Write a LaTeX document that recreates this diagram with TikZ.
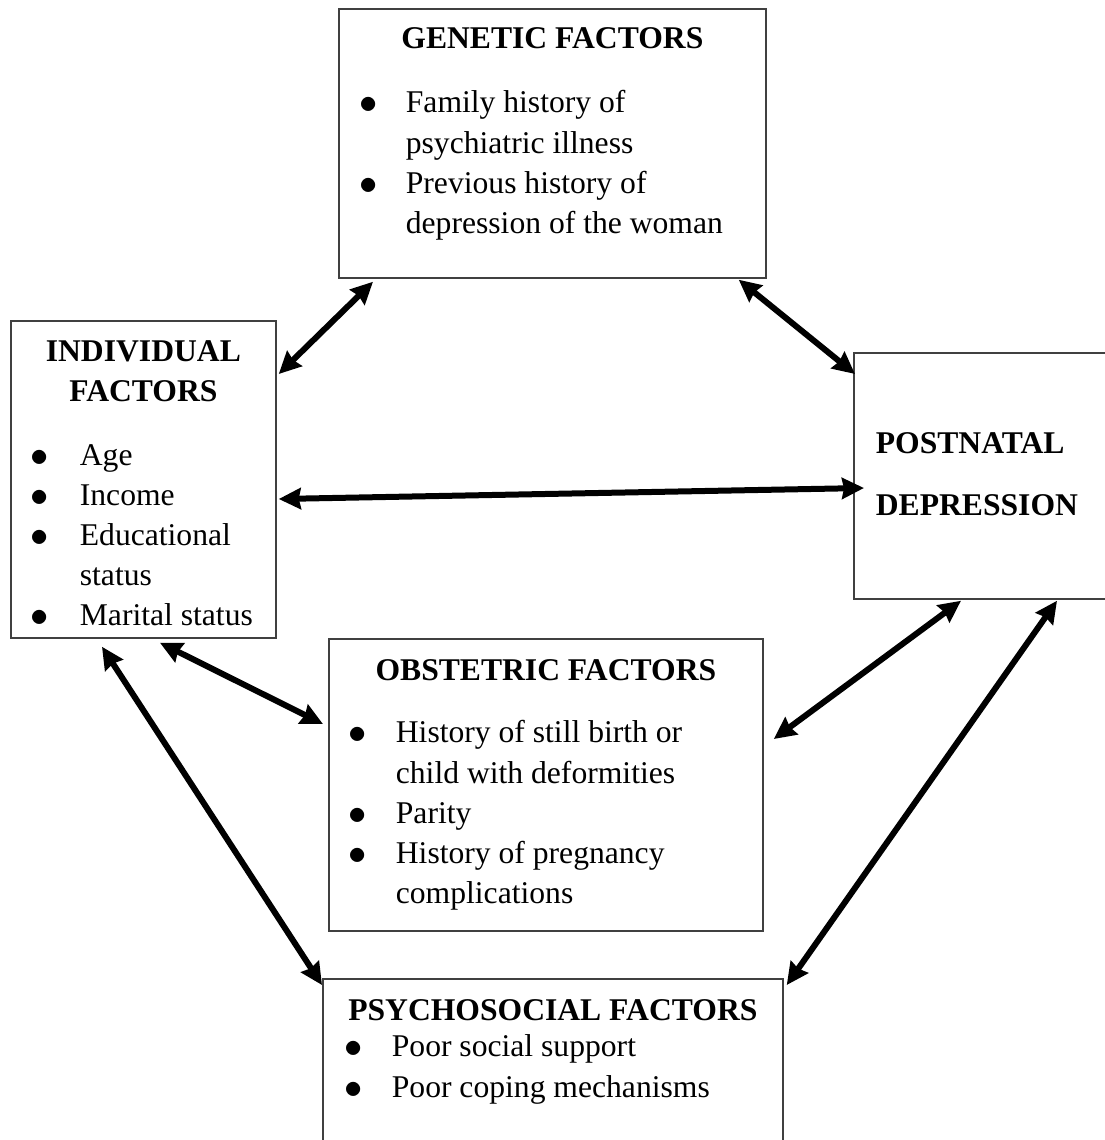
\documentclass[tikz,border=0pt]{standalone}
\usepackage{fontspec}
\setmainfont{Liberation Serif}
\usetikzlibrary{arrows.meta,calc}
\newlength{\pxu}
\setlength{\pxu}{0.02cm}
\newcommand{\dotitem}{\raisebox{-1\pxu}{\fontsize{22}{22}\selectfont$\bullet$}}

\begin{document}
\begin{tikzpicture}[x=0.02cm,y=-0.02cm]
    \tikzstyle{factor} = [draw=black!75,line width=1pt,rectangle,inner sep=0pt,anchor=north west,font=\fontsize{18}{22.8}\selectfont]
    \tikzstyle{link} = [{Stealth[length=0.44cm,width=0.42cm,inset=0.04cm]}-{Stealth[length=0.44cm,width=0.42cm,inset=0.04cm]},line width=0.12cm]
      \useasboundingbox (0,0) rectangle (1105,1140);
      \clip (0,0) rectangle (1105,1140);
      \node[factor] (genetic) at (338,8) {\parbox[c][269\pxu][t]{427\pxu}{\vspace*{12\pxu}\centering\textbf{GENETIC FACTORS}\strut\par\vspace{24\pxu}\raggedright\hspace*{21\pxu}\begin{tabular}[t]{@{}p{46\pxu}@{}l@{}}\dotitem & Family history of\\ & psychiatric illness\\ \dotitem & Previous history of\\ & depression of the woman\end{tabular}}};
      \node[factor] (indiv) at (10,320) {\parbox[c][317\pxu][t]{265\pxu}{\vspace*{13\pxu}\centering\textbf{INDIVIDUAL}\strut\\\textbf{FACTORS}\strut\par\vspace{23\pxu}\raggedright\hspace*{20\pxu}\begin{tabular}[t]{@{}p{49\pxu}@{}l@{}}\dotitem & Age\\ \dotitem & Income\\ \dotitem & Educational\\ & status\\ \dotitem & Marital status\end{tabular}}};
      \node[factor] (postnatal) at (853,352) {\parbox[c][246\pxu][t]{300\pxu}{\vspace*{73\pxu}\hspace*{22\pxu}\textbf{POSTNATAL}\strut\\[22\pxu]\hspace*{22\pxu}\textbf{DEPRESSION}}};
      \node[factor] (obstetric) at (328,638) {\parbox[c][292\pxu][t]{434\pxu}{\vspace*{14\pxu}\centering\textbf{OBSTETRIC FACTORS}\strut\par\vspace{22\pxu}\raggedright\hspace*{20\pxu}\begin{tabular}[t]{@{}p{47\pxu}@{}l@{}}\dotitem & History of still birth or\\ & child with deformities\\ \dotitem & Parity\\ \dotitem & History of pregnancy\\ & complications\end{tabular}}};
      \node[factor] (psychosocial) at (322,978) {\parbox[c][250\pxu][t]{460\pxu}{\vspace*{14\pxu}\centering\textbf{PSYCHOSOCIAL FACTORS}\strut\par\vspace{-4\pxu}\raggedright\hspace*{22\pxu}\begin{tabular}[t]{@{}p{47\pxu}@{}l@{}}\dotitem & Poor social support\\ \dotitem & Poor coping mechanisms\end{tabular}}};
      \draw[link] ([xshift=35\pxu,yshift=-3\pxu]genetic.south west) -- ([xshift=2\pxu,yshift=-54\pxu]indiv.north east);
      \draw[link] ([xshift=-28\pxu,yshift=-1\pxu]genetic.south east) -- ([xshift=2\pxu,yshift=-22\pxu]postnatal.north west);
      \draw[link] ([xshift=2\pxu,yshift=-179\pxu]indiv.north east) -- ([xshift=11\pxu,yshift=-136\pxu]postnatal.north west);
      \draw[link] ([xshift=150\pxu,yshift=-4\pxu]indiv.south west) -- ([xshift=-5\pxu,yshift=-86\pxu]obstetric.north west);
      \draw[link] ([xshift=92\pxu,yshift=-8\pxu]indiv.south west) -- ([yshift=-7\pxu]psychosocial.north west);
      \draw[link] ([xshift=10\pxu,yshift=-101\pxu]obstetric.north east) -- ([xshift=108\pxu,yshift=-1\pxu]postnatal.south west);
      \draw[link] ([xshift=3\pxu,yshift=-7\pxu]psychosocial.north east) -- ([xshift=204\pxu,yshift=-1\pxu]postnatal.south west);
  \end{tikzpicture}
\end{document}
